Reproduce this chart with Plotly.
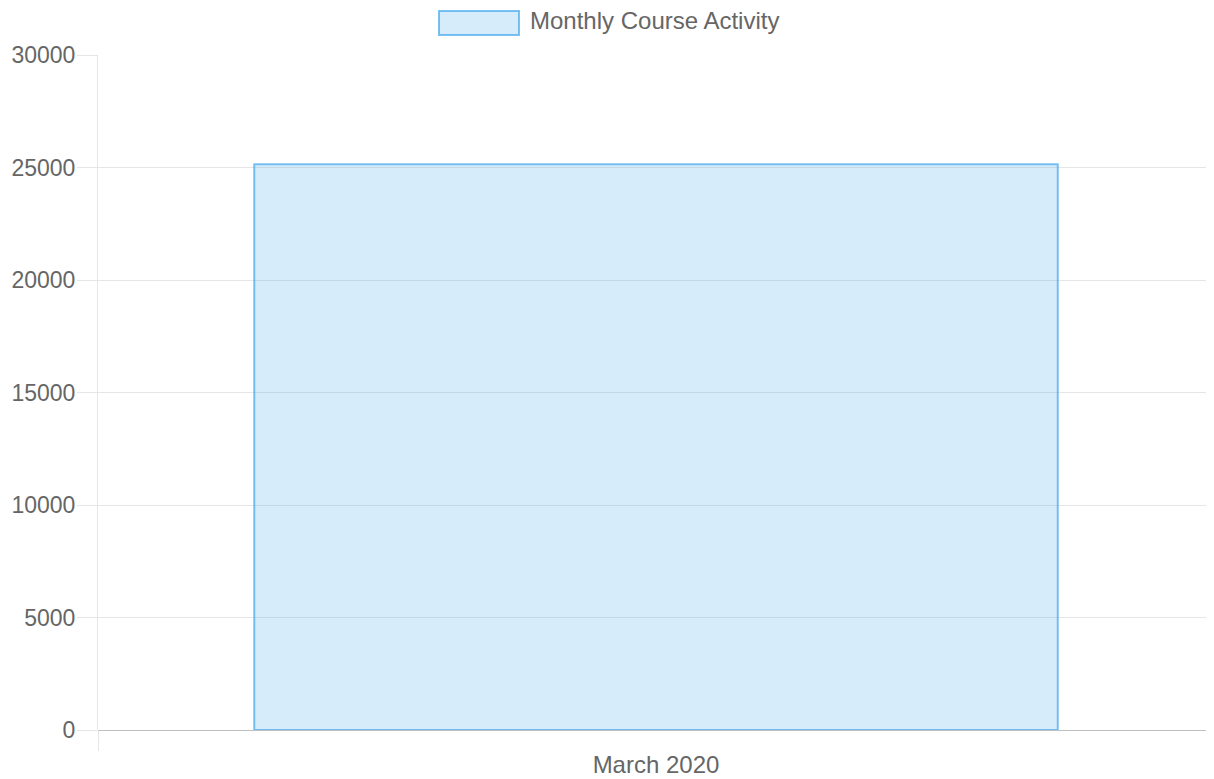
import plotly.graph_objects as go

categories = ["March 2020"]
activity = [25150]
series_name = "Monthly Course Activity"
y_ticks = [0, 5000, 10000, 15000, 20000, 25000, 30000]

FONT = "Liberation Sans, Arial, Helvetica, sans-serif"
GRID = "#e6e6e6"
TEXT = "#666666"

fig = go.Figure()
fig.add_trace(go.Bar(
    x=categories, y=activity, name=series_name,
    marker=dict(color="rgba(54,162,235,0.2)",
                line=dict(color="rgba(54,162,235,0.65)", width=2)),
    showlegend=False,
))

# Pixel helpers for the custom legend (plot area on screen 98..1214 x 55..730)
def px(x):
    return (x - 98) / 1116
def py(y):
    return (730 - y) / 675

fig.add_shape(type="rect", xref="paper", yref="paper",
              x0=px(439), x1=px(519), y0=py(35), y1=py(11),
              fillcolor="rgba(54,162,235,0.2)",
              line=dict(color="rgba(54,162,235,0.65)", width=2))
fig.add_annotation(xref="paper", yref="paper", x=px(528), y=py(21),
                   xanchor="left", yanchor="middle", showarrow=False,
                   text=series_name, font=dict(family=FONT, size=24, color=TEXT))

fig.update_layout(
    width=1214, height=779,
    margin=dict(l=90, r=8, t=47, b=57),
    paper_bgcolor="white", plot_bgcolor="white",
    font=dict(family=FONT, size=24, color=TEXT),
    bargap=0.28,
    xaxis=dict(
        type="category", range=[-0.5, 0.5], automargin=False,
        showgrid=False, zeroline=False, showline=False,
        tickson="boundaries", ticks="outside", ticklen=20, tickcolor=GRID,
        tickwidth=1, tickfont=dict(size=24, color=TEXT),
        ticklabelstandoff=18,
    ),
    yaxis=dict(
        range=[0, 30000], tickvals=y_ticks, ticktext=[str(v) for v in y_ticks],
        automargin=False,
        showgrid=True, gridcolor=GRID, gridwidth=1,
        zeroline=True, zerolinecolor="#bfbfbf", zerolinewidth=1,
        showline=True, linecolor=GRID, linewidth=1,
        ticks="outside", ticklen=20, tickcolor=GRID, tickwidth=1,
        tickfont=dict(size=23, color=TEXT),
        ticklabelstandoff=-3,
    ),
)

fig.write_html("out.html")
